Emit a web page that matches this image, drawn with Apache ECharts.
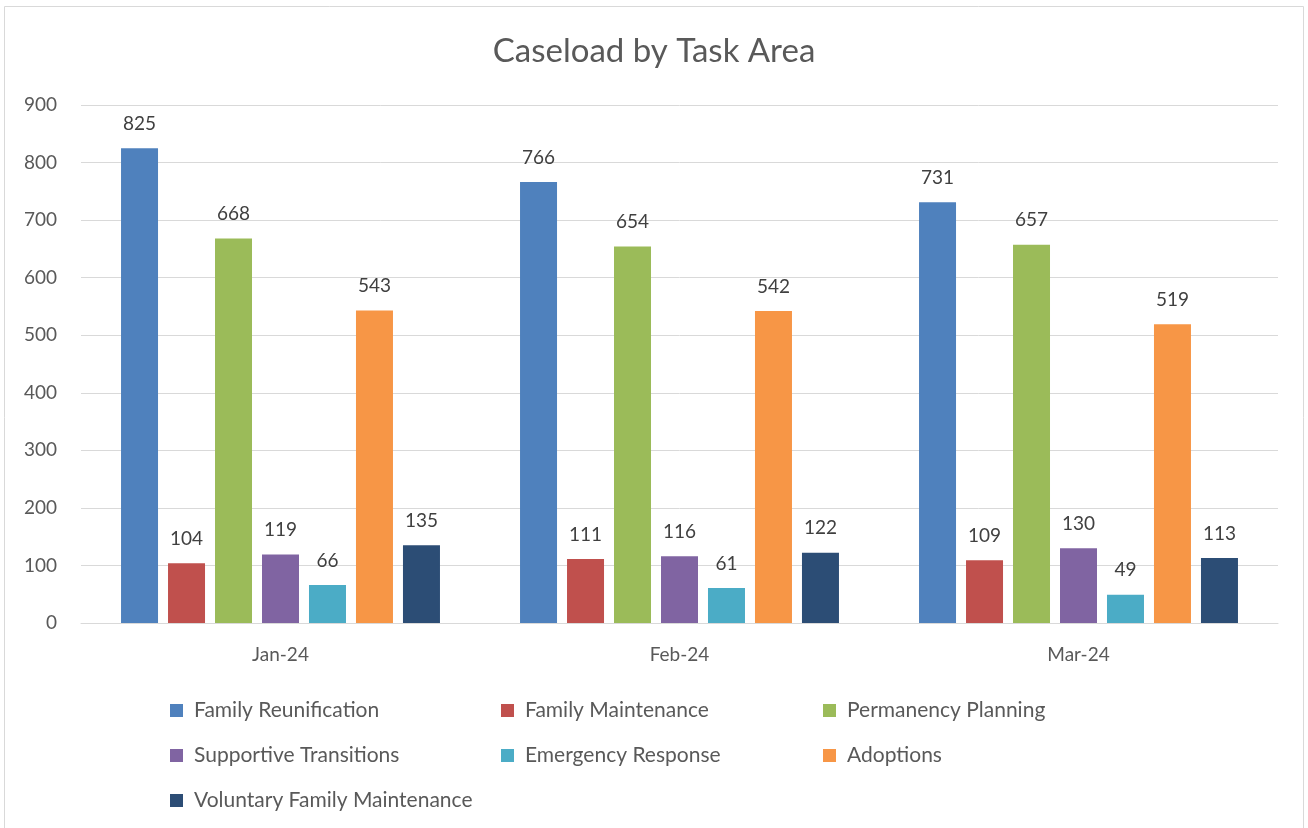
<!DOCTYPE html>
<html><head><meta charset="utf-8">
<script src="https://cdn.jsdelivr.net/npm/echarts@6/dist/echarts.min.js"></script>
<style>html,body{margin:0;padding:0;background:#fff}#c{width:1308px;height:828px}</style>
</head><body><div id="c"></div>
<script>
const categories = ['Jan-24', 'Feb-24', 'Mar-24'];
const seriesNames = ['Family Reunification','Family Maintenance','Permanency Planning','Supportive Transitions','Emergency Response','Adoptions','Voluntary Family Maintenance'];
const familyReunification = [825, 766, 731];
const familyMaintenance = [104, 111, 109];
const permanencyPlanning = [668, 654, 657];
const supportiveTransitions = [119, 116, 130];
const emergencyResponse = [66, 61, 49];
const adoptions = [543, 542, 519];
const voluntaryFamilyMaintenance = [135, 122, 113];
const colors = ['#4F81BD','#C0504D','#9BBB59','#8064A2','#4BACC6','#F79646','#2C4D75'];
const values = [familyReunification, familyMaintenance, permanencyPlanning, supportiveTransitions, emergencyResponse, adoptions, voluntaryFamilyMaintenance];
const font = 'Lato, "Open Sans", sans-serif';
const chart = echarts.init(document.getElementById('c'));
const legendCommon = {orient:'vertical', top:695, height:130, itemWidth:13, itemHeight:13, itemGap:24, icon:'rect',
  textStyle:{fontFamily:font, fontSize:21, color:'#595959', padding:[0,0,0,6]}, selectedMode:false};
chart.setOption({
  animation:false,
  color: colors,
  graphic:[{type:'rect', shape:{x:4.5,y:6.5,width:1299,height:830}, style:{fill:'none', stroke:'#d9d9d9', lineWidth:1}, silent:true}],
  title:{text:'Caseload by Task Area', left:'center', top:30, textStyle:{fontFamily:font, fontSize:33, fontWeight:'normal', color:'#595959'}},
  legend:[
    Object.assign({left:165, data:[seriesNames[0], seriesNames[3], seriesNames[6]]}, legendCommon),
    Object.assign({left:496, data:[seriesNames[1], seriesNames[4]]}, legendCommon),
    Object.assign({left:818, data:[seriesNames[2], seriesNames[5]]}, legendCommon)
  ],
  grid:{left:81, right:30, top:105, bottom:205, containLabel:false},
  xAxis:{type:'category', data:categories, axisLine:{lineStyle:{color:'#d9d9d9'}}, axisTick:{show:false},
    axisLabel:{fontFamily:font, fontSize:19, color:'#595959', margin:22}},
  yAxis:{type:'value', min:0, max:900, interval:100, axisLine:{show:false}, axisTick:{show:false},
    splitLine:{lineStyle:{color:'#d9d9d9'}}, axisLabel:{fontFamily:font, fontSize:19, color:'#595959', margin:24}},
  series: seriesNames.map((n,i)=>({name:n, type:'bar', data:values[i], barWidth:37, barGap:'27%', barCategoryGap:'20%',
    label:{show:true, position:'top', distance:15, fontFamily:font, fontSize:19, color:'#404040'}}))
});
</script></body></html>
